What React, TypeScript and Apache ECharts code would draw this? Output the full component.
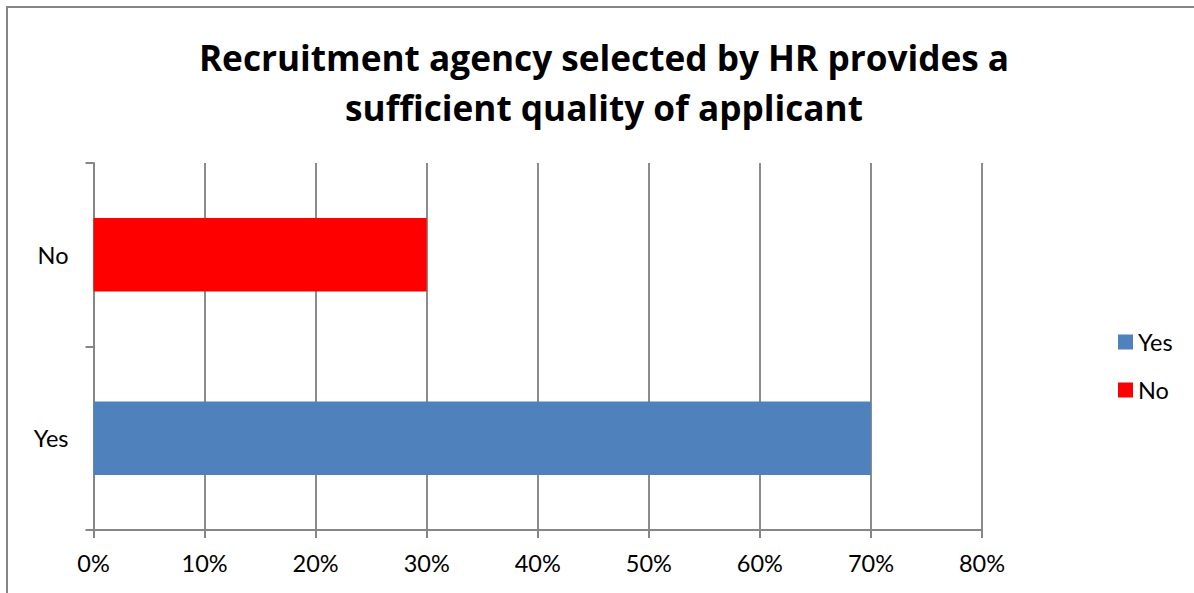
import React, { useEffect, useRef } from "react";
import * as echarts from "echarts";

const categories = ["Yes", "No"];
const seriesNames = ["Yes", "No"];
const yesValues = [70, "-"];
const noValues = ["-", 30];
const seriesColors = ["#4f81bd", "#ff0000"];
const titleLines = ["Recruitment agency selected by HR provides a", "sufficient quality of applicant"];
const xMin = 0;
const xMax = 80;
const xInterval = 10;

const FONT = "Lato, 'Open Sans', sans-serif";
const TITLE_FONT = "'Open Sans', Lato, sans-serif";

export default function App() {
  const ref = useRef<HTMLDivElement>(null);
  useEffect(() => {
    const chart = echarts.init(ref.current!, null, { renderer: "svg" });
    chart.setOption({
      animation: false,
      backgroundColor: "#ffffff",
      textStyle: { fontFamily: FONT },
      graphic: [
        {
          type: "rect",
          shape: { x: 7, y: 7, width: 1400, height: 800 },
          style: { fill: "none", stroke: "#868686", lineWidth: 2 },
          silent: true,
          z: 100,
        },
        {
          type: "text",
          x: 604,
          y: 57,
          style: {
            text: titleLines[0],
            font: `bold 35.2px ${TITLE_FONT}`,
            fill: "#000000",
            textAlign: "center",
            textVerticalAlign: "middle",
          },
        },
        {
          type: "text",
          x: 604,
          y: 107,
          style: {
            text: titleLines[1],
            font: `bold 35.2px ${TITLE_FONT}`,
            fill: "#000000",
            textAlign: "center",
            textVerticalAlign: "middle",
          },
        },
      ],
      legend: {
        orient: "vertical",
        left: 1118,
        top: 330,
        padding: 0,
        itemWidth: 15,
        itemHeight: 15,
        itemGap: 24,
        icon: "rect",
        data: seriesNames,
        textStyle: { fontSize: 23.5, color: "#000", fontFamily: FONT },
      },
      grid: { left: 93.5, right: 212, top: 163, bottom: 63, containLabel: false },
      xAxis: {
        type: "value",
        min: xMin,
        max: xMax,
        interval: xInterval,
        axisLine: { show: true, lineStyle: { color: "#868686", width: 2 } },
        axisTick: { show: true, length: 8, lineStyle: { color: "#868686", width: 2 } },
        splitLine: { show: true, lineStyle: { color: "#8c8c8c", width: 2 } },
        axisLabel: {
          formatter: "{value}%",
          fontSize: 23.5,
          color: "#000",
          margin: 21,
          fontFamily: FONT,
        },
      },
      yAxis: {
        type: "category",
        data: categories,
        axisLine: { show: true, lineStyle: { color: "#868686", width: 2 } },
        axisTick: { show: true, length: 8, lineStyle: { color: "#868686", width: 2 } },
        axisLabel: { fontSize: 23.5, color: "#000", margin: 25, fontFamily: FONT },
      },
      series: [
        {
          name: seriesNames[0],
          type: "bar",
          stack: "total",
          data: yesValues,
          barWidth: "40%",
          itemStyle: { color: seriesColors[0] },
        },
        {
          name: seriesNames[1],
          type: "bar",
          stack: "total",
          data: noValues,
          barWidth: "40%",
          itemStyle: { color: seriesColors[1] },
        },
      ],
    });
    return () => chart.dispose();
  }, []);
  return (
    <div
      ref={ref}
      style={{ position: "absolute", left: 0, top: 0, width: 1194, height: 593 }}
    />
  );
}
